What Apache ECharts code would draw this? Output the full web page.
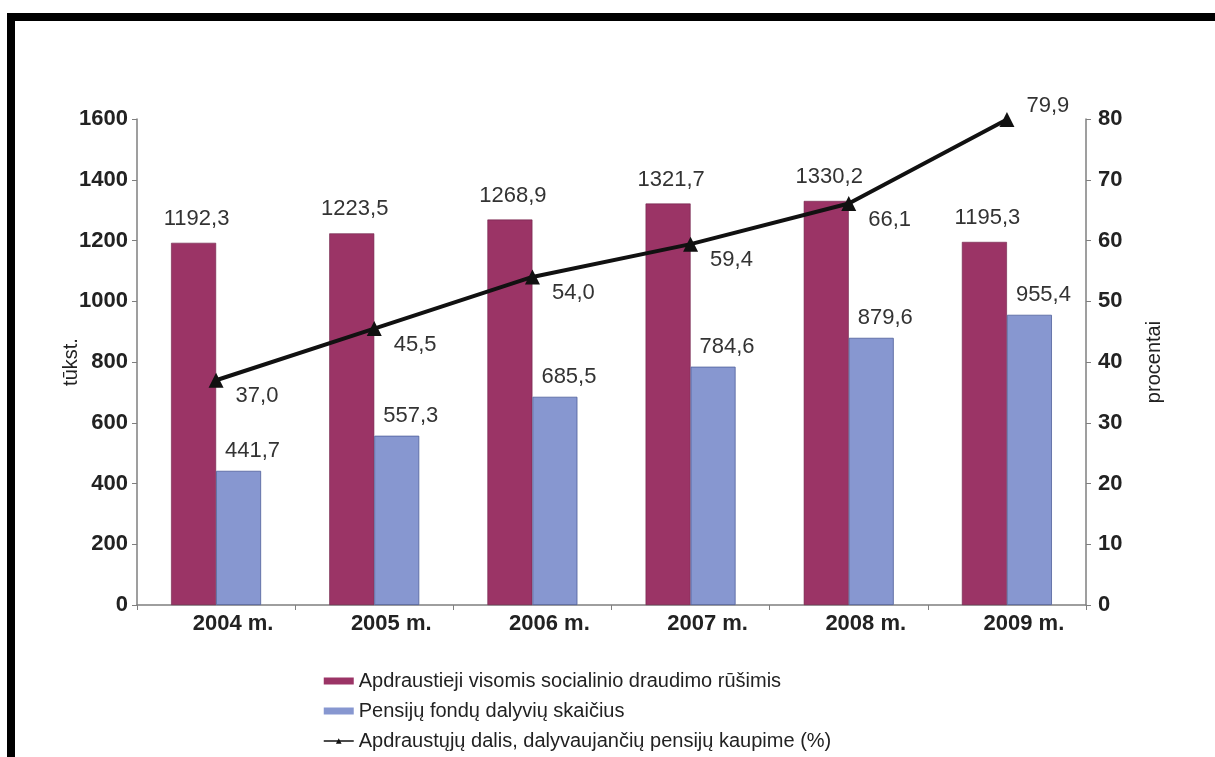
<!DOCTYPE html>
<html>
<head>
<meta charset="utf-8">
<script src="https://cdn.jsdelivr.net/npm/echarts@6/dist/echarts.min.js"></script>
<style>
  html, body { margin: 0; padding: 0; background: #fff; }
  #frame {
    position: absolute; left: 7px; top: 13px; right: -20px; bottom: -20px;
    border-left: 8px solid #000; border-top: 8px solid #000;
  }
  #chart { position: absolute; left: 0; top: 0; width: 1215px; height: 757px; }
</style>
</head>
<body>
<div id="frame"></div>
<div id="chart"></div>
<script>
// Years on the category axis
const years = ['2004 m.', '2005 m.', '2006 m.', '2007 m.', '2008 m.', '2009 m.'];
// Insured by all kinds of social insurance (thousands)
const insured = [1192.3, 1223.5, 1268.9, 1321.7, 1330.2, 1195.3];
// Pension fund participants (thousands)
const participants = [441.7, 557.3, 685.5, 784.6, 879.6, 955.4];
// Share of insured taking part in pension accumulation (%)
const share = [37.0, 45.5, 54.0, 59.4, 66.1, 79.9];

const seriesNames = [
  'Apdraustieji visomis socialinio draudimo rūšimis',
  'Pensijų fondų dalyvių skaičius',
  'Apdraustųjų dalis, dalyvaujančių pensijų kaupime (%)'
];

const fmt = v => v.toFixed(1).replace('.', ',');
const FONT = 'Liberation Sans, Arial, sans-serif';
const axisGray = '#7f7f7f';

const chart = echarts.init(document.getElementById('chart'), null, { renderer: 'canvas' });

const lineData = share.map((v, i) => ({
  value: v,
  label: { offset: i === share.length - 1 ? [0, -14] : [0, 16] }
}));

chart.setOption({
  animation: false,
  textStyle: { fontFamily: FONT },
  grid: { left: 137, right: 129, top: 119, bottom: 152, containLabel: false },
  legend: {
    orient: 'vertical',
    left: 318,
    top: 665,
    itemWidth: 30,
    itemHeight: 7,
    itemGap: 8,
    textStyle: { fontSize: 20, color: '#222', fontFamily: FONT, lineHeight: 22 },
    itemStyle: { borderWidth: 0 },
    lineStyle: { width: 1.5 },
    data: [
      { name: seriesNames[0], icon: 'rect' },
      { name: seriesNames[1], icon: 'rect' },
      { name: seriesNames[2] }
    ]
  },
  xAxis: {
    type: 'category',
    data: years,
    axisLine: { lineStyle: { color: axisGray, width: 1.5 } },
    axisTick: { show: true, length: 5, lineStyle: { color: axisGray } },
    axisLabel: {
      fontSize: 22, fontWeight: 'bold', color: '#222', margin: 8,
      padding: [0, 0, 0, 34]
    }
  },
  yAxis: [
    {
      type: 'value', min: 0, max: 1600, interval: 200,
      name: 'tūkst.', nameLocation: 'middle', nameGap: 56, nameRotate: 90,
      nameMoveOverlap: false,
      nameTextStyle: { fontSize: 20, color: '#222' },
      axisLine: { show: true, lineStyle: { color: axisGray, width: 1.5 } },
      axisTick: { show: true, length: 5, lineStyle: { color: axisGray } },
      splitLine: { show: false },
      axisLabel: { fontSize: 22, fontWeight: 'bold', color: '#222', margin: 9,
                   formatter: v => String(v) }
    },
    {
      type: 'value', min: 0, max: 80, interval: 10, position: 'right',
      name: 'procentai', nameLocation: 'middle', nameGap: 58, nameRotate: 90,
      nameTextStyle: { fontSize: 20, color: '#222' },
      axisLine: { show: true, lineStyle: { color: axisGray, width: 1.5 } },
      axisTick: { show: true, length: 5, lineStyle: { color: axisGray } },
      splitLine: { show: false },
      axisLabel: { fontSize: 22, fontWeight: 'bold', color: '#222', margin: 12 }
    }
  ],
  series: [
    {
      name: seriesNames[0],
      type: 'bar',
      data: insured,
      barWidth: 45,
      barGap: '0%',
      itemStyle: { color: '#9b3466', borderColor: '#6e2248', borderWidth: 0.6 },
      label: {
        show: true, position: 'top', distance: 13, offset: [3, 0],
        fontSize: 22, color: '#333', formatter: p => fmt(p.value)
      }
    },
    {
      name: seriesNames[1],
      type: 'bar',
      data: participants,
      barWidth: 45,
      barGap: '0%',
      itemStyle: { color: '#8797d0', borderColor: '#4f5f9a', borderWidth: 0.8 },
      label: {
        show: true, position: 'top', distance: 9, offset: [14, 0],
        fontSize: 22, color: '#333', formatter: p => fmt(p.value)
      }
    },
    {
      name: seriesNames[2],
      type: 'line',
      yAxisIndex: 1,
      data: lineData,
      symbol: 'triangle',
      symbolSize: 15,
      lineStyle: { color: '#111', width: 4 },
      itemStyle: { color: '#111' },
      z: 5,
      label: {
        show: true, position: 'right', distance: 12,
        fontSize: 22, color: '#333', formatter: p => fmt(p.value)
      }
    }
  ]
});
</script>
</body>
</html>
